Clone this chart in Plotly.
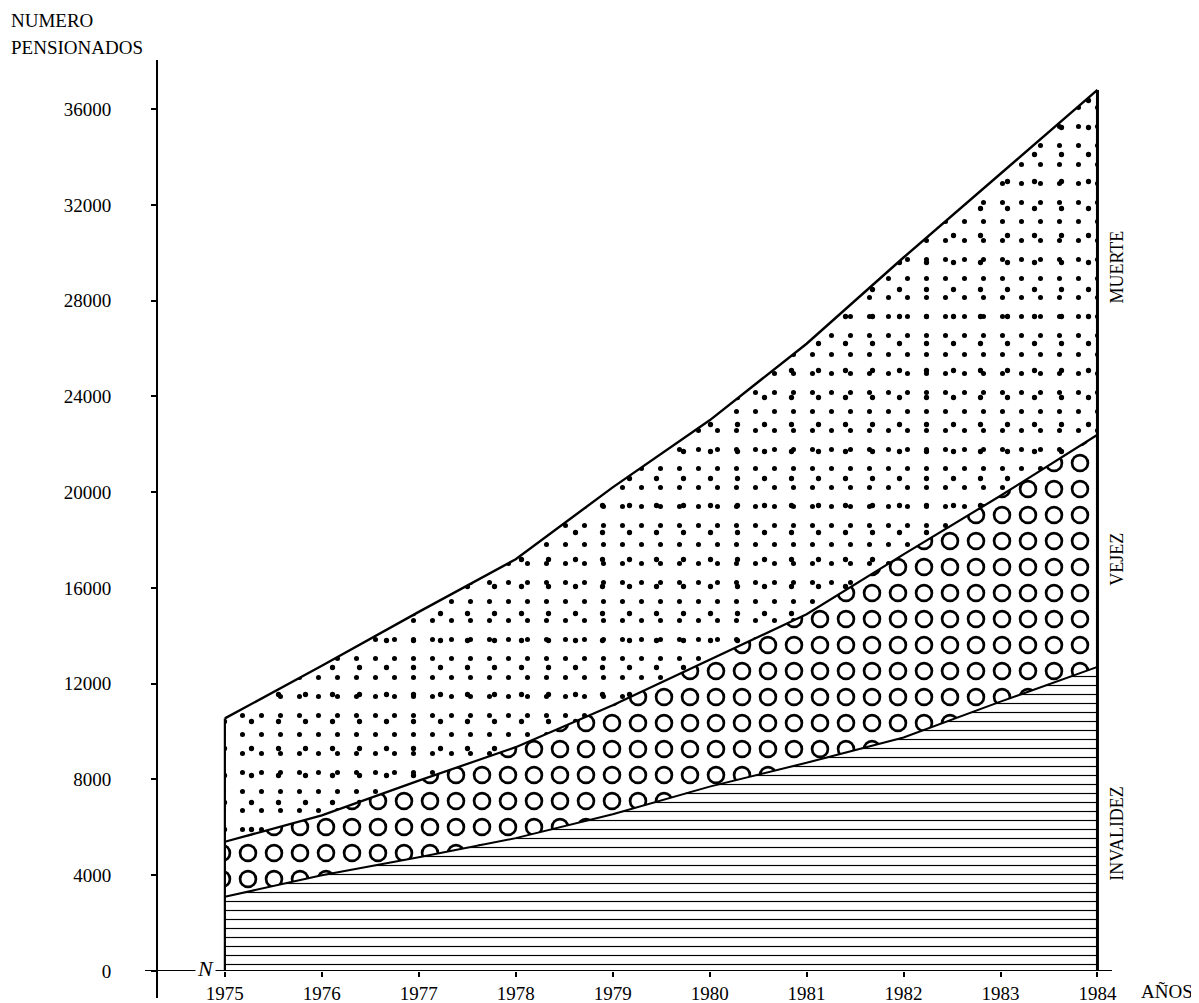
import plotly.graph_objects as go

# ---- data ----
years = [1975, 1976, 1977, 1978, 1979, 1980, 1981, 1982, 1983, 1984]
invalidez = [3100, 4000, 4750, 5550, 6550, 7700, 8700, 9750, 11250, 12700]
vejez = [2300, 2500, 3200, 3800, 4550, 5300, 6200, 7650, 8600, 9700]
muerte = [5150, 6250, 7050, 7850, 9100, 10000, 11300, 12400, 13450, 14400]
y_tick_vals = [0, 4000, 8000, 12000, 16000, 20000, 24000, 28000, 32000, 36000]
x_tick_vals = years
series_names = ["INVALIDEZ", "VEJEZ", "MUERTE"]

# cumulative stacks
cum_inv = invalidez
cum_vej = [a + b for a, b in zip(invalidez, vejez)]
cum_mue = [a + b for a, b in zip(cum_vej, muerte)]

FONT = "Liberation Serif"
OFF = 8                      # page body margin
W, H = 1199 - OFF, 1003 - OFF
# plot area in page pixels (reference): left 157, right 1112, top 60, bottom 971
PL, PR, PT, PB = 157, 1112, 60, 971
L, T = PL - OFF, PT - OFF
R = W - (PR - OFF)
B = H - (PB - OFF)
plot_w = PR - PL
plot_h = PB - PT


def px_x(p):
    return (p - PL) / plot_w


def px_y(p):
    return (PB - p) / plot_h


fig = go.Figure()

# INVALIDEZ: horizontal lines
fig.add_trace(go.Scatter(
    x=years, y=cum_inv, mode="lines", fill="tozeroy", line=dict(width=0, color="black"),
    fillcolor="white",
    fillpattern=dict(shape="-", size=9, solidity=0.13, fgcolor="black", bgcolor="white",
                     fgopacity=1),
    hoverinfo="skip", showlegend=False, name=series_names[0]))

# VEJEZ: rings (black dots + white dots on top)
fig.add_trace(go.Scatter(
    x=years, y=cum_vej, mode="lines", fill="tonexty", line=dict(width=0, color="black"),
    fillcolor="white",
    fillpattern=dict(shape=".", size=26, solidity=0.40, fgcolor="black", bgcolor="white",
                     fgopacity=1),
    hoverinfo="skip", showlegend=False, name=series_names[1]))
fig.add_trace(go.Scatter(
    x=years, y=cum_inv, mode="lines", line=dict(width=0, color="rgba(0,0,0,0)"),
    hoverinfo="skip", showlegend=False))
fig.add_trace(go.Scatter(
    x=years, y=cum_vej, mode="lines", fill="tonexty", line=dict(width=0, color="rgba(0,0,0,0)"),
    fillcolor="rgba(0,0,0,0)",
    fillpattern=dict(shape=".", size=26, solidity=0.20, fgcolor="white",
                     bgcolor="rgba(0,0,0,0)", fgopacity=1),
    hoverinfo="skip", showlegend=False))

# MUERTE: scattered small marks (two interfering dot grids)
fig.add_trace(go.Scatter(
    x=years, y=cum_mue, mode="lines", fill="tonexty", line=dict(width=0, color="black"),
    fillcolor="white",
    fillpattern=dict(shape=".", size=19, solidity=0.055, fgcolor="black", bgcolor="white",
                     fgopacity=1),
    hoverinfo="skip", showlegend=False, name=series_names[2]))
fig.add_trace(go.Scatter(
    x=years, y=cum_vej, mode="lines", line=dict(width=0, color="rgba(0,0,0,0)"),
    hoverinfo="skip", showlegend=False))
fig.add_trace(go.Scatter(
    x=years, y=cum_mue, mode="lines", fill="tonexty", line=dict(width=0, color="rgba(0,0,0,0)"),
    fillcolor="rgba(0,0,0,0)",
    fillpattern=dict(shape=".", size=27, solidity=0.03, fgcolor="black",
                     bgcolor="rgba(0,0,0,0)", fgopacity=1),
    hoverinfo="skip", showlegend=False))

# boundary lines
for ys, w in [(cum_inv, 2), (cum_vej, 2.2), (cum_mue, 2.4)]:
    fig.add_trace(go.Scatter(x=years, y=ys, mode="lines",
                             line=dict(color="black", width=w),
                             hoverinfo="skip", showlegend=False))
# vertical edges
fig.add_trace(go.Scatter(x=[years[0], years[0]], y=[0, cum_mue[0]], mode="lines",
                         line=dict(color="black", width=2.2), hoverinfo="skip", showlegend=False))
fig.add_trace(go.Scatter(x=[years[-1], years[-1]], y=[0, cum_mue[-1]], mode="lines",
                         line=dict(color="black", width=3), hoverinfo="skip", showlegend=False))

# axis lines drawn as shapes
fig.add_shape(type="line", xref="paper", yref="paper", x0=0, x1=0, y0=px_y(998), y1=1,
              line=dict(color="black", width=2))
fig.add_shape(type="line", xref="paper", yref="y", x0=px_x(145), x1=1.0, y0=0, y1=0,
              line=dict(color="black", width=2))

anns = [
    dict(text="NUMERO", x=px_x(9), y=px_y(20), xanchor="left", yanchor="middle"),
    dict(text="PENSIONADOS", x=px_x(9), y=px_y(47), xanchor="left", yanchor="middle"),
    dict(text="AÑOS", x=px_x(1139), y=px_y(991), xanchor="left", yanchor="middle"),
    dict(text="<i>N</i>", x=px_x(205), y=px_y(968), xanchor="center", yanchor="middle",
         font=dict(size=22, family=FONT, color="black"), bgcolor="white"),
]
for a in anns:
    a.setdefault("font", dict(size=19, family=FONT, color="black"))
    fig.add_annotation(xref="paper", yref="paper", showarrow=False, **a)

# side labels
label_y = [5750, 17200, 29400]
for name, yv in zip(series_names, label_y):
    fig.add_annotation(x=years[-1], y=yv, xref="x", yref="y", text=name, textangle=-90,
                       showarrow=False, xshift=20, font=dict(size=18, family=FONT, color="black"))

fig.update_layout(
    width=W, height=H,
    margin=dict(l=L, r=R, t=T, b=B, pad=0),
    paper_bgcolor="white", plot_bgcolor="white",
    font=dict(family=FONT, size=20, color="black"),
    xaxis=dict(range=[1974.3, 1984.15], tickvals=x_tick_vals, ticks="outside", ticklen=5,
               tickwidth=2, tickcolor="black", showgrid=False, zeroline=False, showline=False,
               automargin=False, tickfont=dict(size=19, family=FONT)),
    yaxis=dict(range=[0, 38050], tickvals=y_tick_vals, tickformat="d", ticks="outside",
               ticklen=5, tickwidth=2, tickcolor="black", showgrid=False, zeroline=False,
               showline=False, automargin=False, ticklabelstandoff=36,
               tickfont=dict(size=19, family=FONT)),
)

fig.write_html("out.html")
